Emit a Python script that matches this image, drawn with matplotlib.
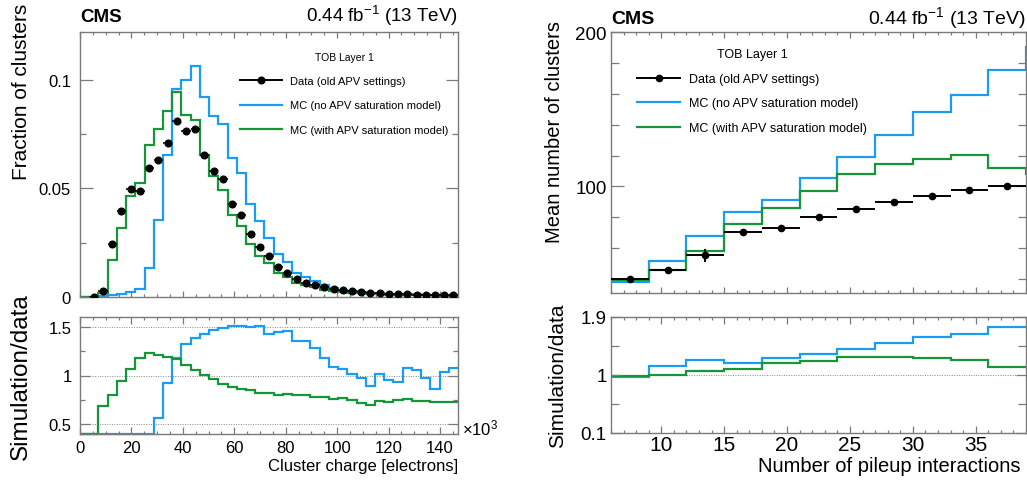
import numpy as np
import matplotlib
matplotlib.use("Agg")
import matplotlib.pyplot as plt
from matplotlib.lines import Line2D
from matplotlib.ticker import MultipleLocator, FixedLocator, FuncFormatter

plt.rcParams['font.family'] = ['Liberation Sans', 'DejaVu Sans']
plt.rcParams['mathtext.fontset'] = 'custom'
plt.rcParams['mathtext.rm'] = 'Liberation Sans'
plt.rcParams['mathtext.it'] = 'Liberation Sans:italic'

# --- cluster charge distribution (TOB layer 1), 41 bins over 0-147 x10^3 electrons
charge_lo, charge_hi, n_charge = 0.0, 147.0, 41

data_frac = [np.nan, 0.0, 0.0026, 0.0244, 0.0398, 0.0497, 0.0488, 0.0592, 0.0633, 0.0710,
             0.0812, 0.0762, 0.0773, 0.0655, 0.0581, 0.0541, 0.0428, 0.0378, 0.0289, 0.0228,
             0.0190, 0.0137, 0.0112, 0.0081, 0.0066, 0.0057, 0.0044, 0.0038, 0.0031, 0.0026,
             0.0023, 0.0019, 0.0017, 0.0013, 0.0012, 0.0012, 0.0011, 0.0010, 0.0009, 0.0008,
             0.0007]
mc_nosat_frac = [0.0, 0.0, 0.0005, 0.0011, 0.0015, 0.0023, 0.0035, 0.0133, 0.0353, 0.0652,
                 0.0959, 0.1000, 0.1063, 0.0920, 0.0833, 0.0798, 0.0640, 0.0572, 0.0430, 0.0348,
                 0.0272, 0.0199, 0.0161, 0.0112, 0.0092, 0.0072, 0.0054, 0.0041, 0.0033, 0.0027,
                 0.0023, 0.0017, 0.0017, 0.0012, 0.0011, 0.0013, 0.0012, 0.0010, 0.0008, 0.0008,
                 0.0008]
mc_sat_frac = [0.0, 0.0, 0.0018, 0.0171, 0.0317, 0.0464, 0.0523, 0.0699, 0.0775, 0.0856,
               0.0946, 0.0839, 0.0814, 0.0655, 0.0557, 0.0493, 0.0377, 0.0326, 0.0243, 0.0189,
               0.0156, 0.0112, 0.0093, 0.0066, 0.0054, 0.0045, 0.0034, 0.0029, 0.0024, 0.0019,
               0.0017, 0.0013, 0.0013, 0.0009, 0.0009, 0.0009, 0.0008, 0.0007, 0.0007, 0.0006,
               0.0005]
ratio_nosat_charge = [0.0, 0.0, 0.19, 0.045, 0.04, 0.05, 0.07, 0.22, 0.565, 0.925,
                      1.175, 1.32, 1.38, 1.425, 1.465, 1.49, 1.505, 1.51, 1.50, 1.51,
                      1.43, 1.445, 1.46, 1.35, 1.355, 1.286, 1.184, 1.092, 1.07, 1.02,
                      0.97, 0.895, 1.014, 0.956, 0.935, 1.075, 1.054, 0.973, 0.861, 1.041,
                      1.082]
ratio_sat_charge = [0.0, 0.0, 0.69, 0.80, 0.939, 1.068, 1.177, 1.231, 1.214, 1.194,
                    1.17, 1.105, 1.054, 1.003, 0.959, 0.912, 0.884, 0.861, 0.847, 0.816,
                    0.822, 0.803, 0.813, 0.799, 0.796, 0.782, 0.779, 0.755, 0.769, 0.748,
                    0.718, 0.694, 0.738, 0.724, 0.752, 0.762, 0.741, 0.735, 0.731, 0.731,
                    0.731]

# --- mean number of clusters vs pileup, bins of 3 starting at 6
pu_lo, pu_step = 6, 3
data_ncl = [40.2, 45.6, 55.3, 70.4, 73.0, 80.1, 85.1, 89.8, 94.0, 97.6, 100.2]
data_ncl_err = [0.6, 0.6, 4.0, 0.8, 0.6, 0.5, 0.5, 0.5, 0.5, 0.5, 0.5]
mc_nosat_ncl = [38.0, 51.6, 67.6, 83.4, 91.1, 105.6, 118.8, 133.5, 148.4, 159.4, 175.2, 190.6]
mc_sat_ncl = [39.1, 45.8, 58.5, 75.8, 86.2, 97.2, 107.8, 114.7, 117.7, 120.1, 111.9, 107.8]
ratio_nosat_pu = [0.964, 1.14, 1.233, 1.186, 1.259, 1.32, 1.40, 1.497, 1.584, 1.641, 1.745]
ratio_sat_pu = [0.99, 1.0, 1.062, 1.088, 1.19, 1.217, 1.274, 1.284, 1.259, 1.233, 1.124]

legend_labels = ['Data (old APV settings)', 'MC (no APV saturation model)',
                 'MC (with APV saturation model)']

BLUE = '#1a9cf2'
GREEN = '#17953a'
FRAME = '#7a7a7a'

W, H = 1027, 481


def px_rect(x0, y0, x1, y1):
    return [x0 / W, 1 - y1 / H, (x1 - x0) / W, (y1 - y0) / H]


def frame(ax, ymaj, ymin, xmaj, xmin, size, ypad, xpad):
    for sp in ax.spines.values():
        sp.set_color(FRAME)
        sp.set_linewidth(1.0)
    ax.tick_params(which='both', direction='in', top=True, right=True,
                   color=FRAME, width=0.9, labelsize=size)
    ax.tick_params(axis='y', which='major', length=ymaj, pad=ypad)
    ax.tick_params(axis='y', which='minor', length=ymin)
    ax.tick_params(axis='x', which='major', length=xmaj, pad=xpad)
    ax.tick_params(axis='x', which='minor', length=xmin)
    ax.yaxis.set_major_formatter(FuncFormatter(lambda v, p: '%g' % v))


fig = plt.figure(figsize=(W / 100, H / 100), dpi=100)

ax_lt = fig.add_axes(px_rect(80, 33, 458, 298))
ax_lr = fig.add_axes(px_rect(80, 318, 458, 435))
ax_rt = fig.add_axes(px_rect(611, 33, 1026, 294))
ax_rr = fig.add_axes(px_rect(611, 318, 1026, 434))

# ---------------- charge distribution
edges = np.linspace(charge_lo, charge_hi, n_charge + 1)
centers = 0.5 * (edges[:-1] + edges[1:])
half_w = 0.5 * (edges[1] - edges[0])

ax_lt.stairs(mc_nosat_frac, edges, color=BLUE, lw=1.6, baseline=None)
ax_lt.stairs(mc_sat_frac, edges, color=GREEN, lw=1.6, baseline=None)
ax_lt.errorbar(centers, data_frac, xerr=half_w, fmt='o', color='black',
               ms=4.8, lw=1.1, capsize=0, zorder=5)
ax_lt.set_xlim(charge_lo, charge_hi)
ax_lt.set_ylim(0, 0.122)
ax_lt.yaxis.set_major_locator(FixedLocator([0, 0.05, 0.1]))
ax_lt.yaxis.set_minor_locator(FixedLocator([0.025, 0.075]))
ax_lt.xaxis.set_major_locator(MultipleLocator(20))
ax_lt.xaxis.set_minor_locator(MultipleLocator(5))
frame(ax_lt, 9, 4.5, 4.5, 2.3, 12, 6.5, 4)
ax_lt.tick_params(labelbottom=False)

lo, hi = 0.4, 1.6
for yv in (0.5, 1.0, 1.5):
    ax_lr.axhline(yv, color='#888888', lw=0.7, ls=(0, (1, 1.5)), zorder=0)
ax_lr.stairs(np.clip(ratio_nosat_charge, lo, hi), edges, color=BLUE, lw=1.6,
             baseline=None, clip_on=False)
ax_lr.stairs(np.clip(ratio_sat_charge, lo, hi), edges, color=GREEN, lw=1.6,
             baseline=None, clip_on=False)
ax_lr.set_xlim(charge_lo, charge_hi)
ax_lr.set_ylim(lo, hi)
ax_lr.yaxis.set_major_locator(FixedLocator([0.5, 1.0, 1.5]))
ax_lr.yaxis.set_minor_locator(FixedLocator([0.75, 1.25]))
ax_lr.xaxis.set_major_locator(MultipleLocator(20))
ax_lr.xaxis.set_minor_locator(MultipleLocator(5))
frame(ax_lr, 7, 3.6, 5, 2.5, 12, 6, 4.5)

# ---------------- clusters vs pileup
pu_edges_mc = pu_lo + pu_step * np.arange(len(mc_nosat_ncl) + 1)
pu_edges = pu_lo + pu_step * np.arange(len(data_ncl) + 1)
pu_centers = 0.5 * (pu_edges[:-1] + pu_edges[1:])

ax_rt.stairs(mc_nosat_ncl, pu_edges_mc, color=BLUE, lw=1.6, baseline=None)
ax_rt.stairs(mc_sat_ncl, pu_edges_mc, color=GREEN, lw=1.6, baseline=None)
ax_rt.errorbar(pu_centers, data_ncl, xerr=pu_step / 2, yerr=data_ncl_err, fmt='o',
               color='black', ms=4.5, lw=1.4, capsize=0, zorder=5)
ax_rt.set_xlim(pu_edges[0], pu_edges[-1])
ax_rt.set_ylim(31, 200)
ax_rt.yaxis.set_major_locator(FixedLocator([100, 200]))
ax_rt.yaxis.set_minor_locator(FixedLocator([40, 60, 80, 120, 140, 160, 180]))
ax_rt.xaxis.set_major_locator(MultipleLocator(5))
ax_rt.xaxis.set_minor_locator(MultipleLocator(1))
frame(ax_rt, 9, 5.5, 4.5, 2.3, 13.5, 3, 2)
ax_rt.tick_params(labelbottom=False)

ax_rr.axhline(1.0, color='#888888', lw=0.7, ls=(0, (1, 1.5)), zorder=0)
ax_rr.stairs(ratio_nosat_pu, pu_edges, color=BLUE, lw=1.6, baseline=None)
ax_rr.stairs(ratio_sat_pu, pu_edges, color=GREEN, lw=1.6, baseline=None)
ax_rr.set_xlim(pu_edges[0], pu_edges[-1])
ax_rr.set_ylim(0.1, 1.9)
ax_rr.yaxis.set_major_locator(FixedLocator([0.1, 1.0, 1.9]))
ax_rr.yaxis.set_minor_locator(FixedLocator([0.55, 1.45]))
ax_rr.xaxis.set_major_locator(MultipleLocator(5))
ax_rr.xaxis.set_minor_locator(MultipleLocator(1))
frame(ax_rr, 7, 5.5, 5, 2.5, 13.5, 3, 1.5)
ax_rr.tick_params(axis='x', labelsize=15)

# ---------------- legends
def add_legend(ax, anchor, size, title_size, hlen, spacing, ms):
    handles = [Line2D([], [], color='black', marker='o', ms=ms, lw=1.4),
               Line2D([], [], color=BLUE, lw=1.6),
               Line2D([], [], color=GREEN, lw=1.6)]
    ax.legend(handles, legend_labels, loc='upper left', bbox_to_anchor=anchor,
              frameon=False, title='TOB Layer 1', fontsize=size,
              title_fontsize=title_size, handlelength=hlen, handletextpad=0.7,
              labelspacing=spacing, borderpad=0, borderaxespad=0)


add_legend(ax_lt, (0.423, 0.926), 8, 7.5, 3.8, 1.3, 4.8)
add_legend(ax_rt, (0.063, 0.937), 9, 9, 3.45, 1.0, 4.5)

# ---------------- labels
def ftext(x, y, s, **kw):
    fig.text(x / W, 1 - y / H, s, **kw)


lumi = r'0.44 fb$^{-1}$ (13 TeV)'
ftext(80, 22, 'CMS', fontsize=13.5, fontweight='bold', ha='left', va='baseline')
ftext(458, 22, lumi, fontsize=13.5, ha='right', va='baseline')
ftext(611, 24, 'CMS', fontsize=14, fontweight='bold', ha='left', va='baseline')
ftext(1026, 24, lumi, fontsize=14, ha='right', va='baseline')

ftext(22, 92, 'Fraction of clusters', fontsize=15, rotation=90, ha='center', va='center')
ftext(21, 377, 'Simulation/data', fontsize=17.5, rotation=90, ha='center', va='center')
ftext(458, 467, 'Cluster charge [electrons]', fontsize=12, ha='right', va='center')
ftext(462, 428, r'$\times$10$^{3}$', fontsize=12, ha='left', va='center')

ftext(555, 132, 'Mean number of clusters', fontsize=14.5, rotation=90, ha='center', va='center')
ftext(558, 376, 'Simulation/data', fontsize=15, rotation=90, ha='center', va='center')
ftext(1020, 466, 'Number of pileup interactions', fontsize=14.5, ha='right', va='center')

fig.savefig('out.png', dpi=100)
